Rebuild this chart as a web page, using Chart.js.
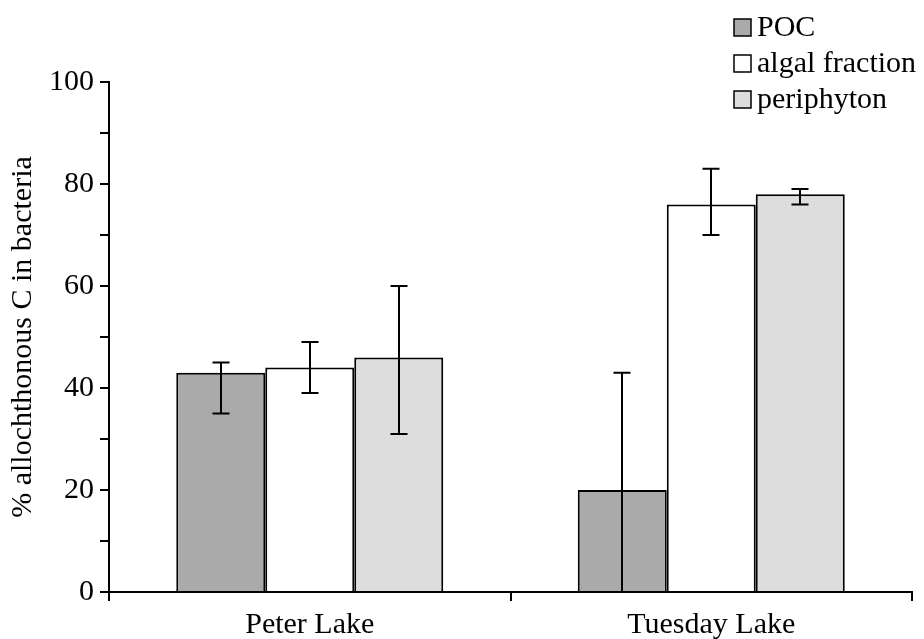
<!DOCTYPE html>
<html>
<head>
<meta charset="utf-8">
<script src="https://cdn.jsdelivr.net/npm/chart.js@4"></script>
<style>
  html, body { margin: 0; padding: 0; background: #fff; }
  #wrap { width: 924px; height: 639px; }
</style>
</head>
<body>
<div id="wrap"><canvas id="bacteriaChart" width="924" height="639"></canvas></div>
<script>
// data
const lakes = ['Peter Lake', 'Tuesday Lake'];
const sourceNames = ['POC', 'algal fraction', 'periphyton'];

const pocValues = [43, 20];
const pocLow = [35, 0];
const pocHigh = [45, 43];

const algalValues = [44, 76];
const algalLow = [39, 70];
const algalHigh = [49, 83];

const periValues = [46, 78];
const periLow = [31, 76];
const periHigh = [60, 79];

const yTicks = [0, 20, 40, 60, 80, 100];

const serif = "'Liberation Serif', 'Times New Roman', serif";

// error bars drawn on top of each bar
const errorBars = {
  id: 'errorBars',
  afterDatasetsDraw(chart) {
    const ctx = chart.ctx;
    const y = chart.scales.y;
    ctx.save();
    ctx.strokeStyle = '#000';
    ctx.lineWidth = 2;
    chart.data.datasets.forEach((ds, i) => {
      const meta = chart.getDatasetMeta(i);
      meta.data.forEach((bar, j) => {
        const yLo = y.getPixelForValue(ds.errLow[j]);
        const yHi = y.getPixelForValue(ds.errHigh[j]);
        const x = Math.round(bar.x);
        ctx.beginPath();
        ctx.moveTo(x, yLo);
        ctx.lineTo(x, yHi);
        ctx.moveTo(x - 8.5, yLo);
        ctx.lineTo(x + 8.5, yLo);
        ctx.moveTo(x - 8.5, yHi);
        ctx.lineTo(x + 8.5, yHi);
        ctx.stroke();
      });
    });
    ctx.restore();
  }
};

// legend stacked in the top right corner
const cornerLegend = {
  id: 'cornerLegend',
  afterDraw(chart) {
    const ctx = chart.ctx;
    ctx.save();
    ctx.font = '30px ' + serif;
    ctx.textBaseline = 'middle';
    chart.data.datasets.forEach((ds, i) => {
      const cy = 27 + i * 36;
      ctx.fillStyle = ds.backgroundColor;
      ctx.fillRect(734, cy - 8, 17, 17);
      ctx.strokeStyle = '#000';
      ctx.lineWidth = 1.5;
      ctx.strokeRect(734, cy - 8, 17, 17);
      ctx.fillStyle = '#000';
      ctx.fillText(ds.label, 757, cy + 1);
    });
    ctx.restore();
  }
};

const ctx = document.getElementById('bacteriaChart').getContext('2d');
new Chart(ctx, {
  type: 'bar',
  data: {
    labels: lakes,
    datasets: [
      {
        label: sourceNames[0],
        data: pocValues,
        errLow: pocLow,
        errHigh: pocHigh,
        backgroundColor: '#aaaaaa',
        borderColor: '#000',
        borderWidth: 2
      },
      {
        label: sourceNames[1],
        data: algalValues,
        errLow: algalLow,
        errHigh: algalHigh,
        backgroundColor: '#ffffff',
        borderColor: '#000',
        borderWidth: 2
      },
      {
        label: sourceNames[2],
        data: periValues,
        errLow: periLow,
        errHigh: periHigh,
        backgroundColor: '#dddddd',
        borderColor: '#000',
        borderWidth: 2
      }
    ]
  },
  options: {
    responsive: false,
    animation: false,
    layout: { padding: { top: 82, right: 12, left: 0, bottom: 0 } },
    categoryPercentage: 0.665,
    barPercentage: 1.0,
    plugins: {
      legend: { display: false },
      tooltip: { enabled: false }
    },
    scales: {
      x: {
        offset: true,
        grid: {
          offset: true,
          drawOnChartArea: false,
          drawTicks: true,
          tickLength: 9,
          color: '#000',
          lineWidth: 2
        },
        border: { color: '#000', width: 2 },
        ticks: {
          color: '#000',
          font: { family: serif, size: 30 },
          padding: 6
        },
        afterFit(scale) { scale.height = 47; }
      },
      y: {
        min: 0,
        max: 100,
        grid: {
          drawOnChartArea: false,
          drawTicks: true,
          tickLength: 9,
          color: '#000',
          lineWidth: 2
        },
        border: { color: '#000', width: 2 },
        ticks: {
          stepSize: 10,
          color: '#000',
          font: { family: serif, size: 30 },
          padding: 6,
          callback: (v) => yTicks.includes(v) ? v : ''
        },
        title: {
          display: true,
          text: '% allochthonous C in bacteria',
          color: '#000',
          font: { family: serif, size: 30 },
          padding: { top: 5, bottom: 0 }
        },
        afterFit(scale) { scale.width = 109; }
      }
    }
  },
  plugins: [errorBars, cornerLegend]
});
</script>
</body>
</html>
